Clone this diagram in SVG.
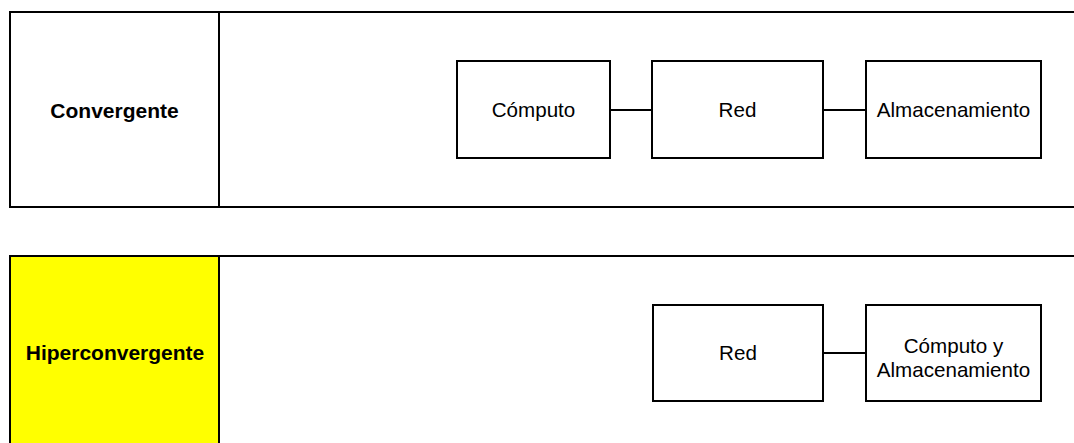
<svg xmlns="http://www.w3.org/2000/svg" width="1074" height="443" viewBox="0 0 1074 443">
<style>
.panel{fill:#fff;stroke:#000;stroke-width:2}
.box{fill:#fff;stroke:#000;stroke-width:2}
.conn{stroke:#000;stroke-width:2;fill:none}
.lbl{font-family:"Liberation Sans",Arial,sans-serif;font-size:21px;font-weight:bold;text-anchor:middle;fill:#000}
.txt{font-family:"Liberation Sans",Arial,sans-serif;font-size:20.6px;text-anchor:middle;fill:#000}
</style>
<rect width="1074" height="443" fill="#fff"/>
<g id="panel-convergente">
<rect class="panel" x="10" y="12" width="1080" height="195"/>
<line class="conn" x1="219" y1="12" x2="219" y2="207"/>
<text class="lbl" x="114.5" y="118">Convergente</text>
</g>
<g id="panel-hiperconvergente">
<rect class="panel" x="10" y="256" width="1080" height="200"/>
<rect x="11" y="257" width="208" height="198" fill="#ffff00"/>
<line class="conn" x1="219" y1="256" x2="219" y2="456"/>
<text class="lbl" x="115" y="360">Hiperconvergente</text>
</g>
<g id="connectors">
<line class="conn" x1="610" y1="110" x2="652" y2="110"/>
<line class="conn" x1="823" y1="110" x2="866" y2="110"/>
<line class="conn" x1="823" y1="353" x2="866" y2="353"/>
</g>
<g id="node-computo">
<rect class="box" x="457" y="61" width="153" height="97"/>
<text class="txt" x="533.5" y="117">Cómputo</text>
</g>
<g id="node-red-1">
<rect class="box" x="652" y="61" width="171" height="97"/>
<text class="txt" x="737.5" y="117">Red</text>
</g>
<g id="node-almacenamiento">
<rect class="box" x="866" y="61" width="175" height="97"/>
<text class="txt" x="953.5" y="117">Almacenamiento</text>
</g>
<g id="node-red-2">
<rect class="box" x="653" y="305" width="170" height="96"/>
<text class="txt" x="738" y="360">Red</text>
</g>
<g id="node-computo-almacenamiento">
<rect class="box" x="866" y="305" width="175" height="96"/>
<text class="txt" x="953.5" y="353">Cómputo y</text>
<text class="txt" x="953.5" y="377">Almacenamiento</text>
</g>
</svg>
